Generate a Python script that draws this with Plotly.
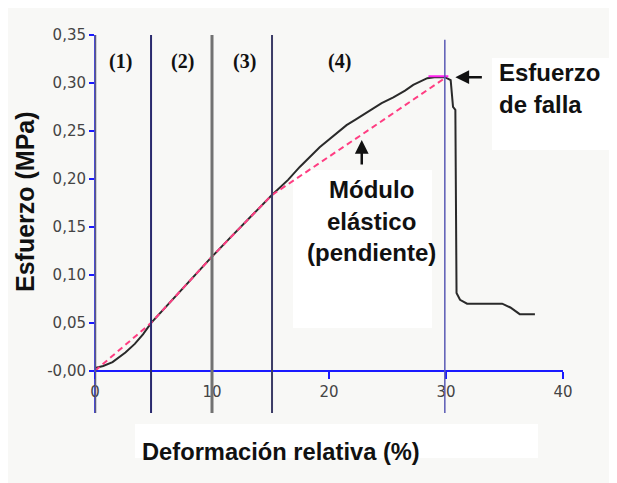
import plotly.graph_objects as go

# ---- data ----
strain = [0, 0.7, 1.5, 2.6, 3.4, 4.1, 4.8, 6.0, 7.5, 9.0, 10.0, 11.5, 13.0, 15.1,
          16.5, 17.5, 19.2, 20.3, 21.5, 22.3, 23.2, 24.5, 25.5, 26.5, 27.2, 28.4,
          29.0, 29.9, 30.4, 30.6, 30.8, 30.9, 31.2, 31.8, 33.0, 34.8, 35.5, 36.3, 37.6]
stress = [0.003, 0.005, 0.009, 0.019, 0.028, 0.038, 0.050, 0.066, 0.086, 0.106, 0.119,
          0.138, 0.157, 0.183, 0.199, 0.2125, 0.233, 0.244, 0.256, 0.262, 0.269, 0.279,
          0.285, 0.292, 0.298, 0.305, 0.306, 0.306, 0.303, 0.275, 0.272, 0.081, 0.074,
          0.070, 0.070, 0.070, 0.066, 0.059, 0.059]

modulus_x = [0, 4.8, 10.0, 15.1, 22.9, 29.9]
modulus_y = [0, 0.050, 0.119, 0.183, 0.247, 0.305]

peak_x = [28.5, 30.2]
peak_y = [0.307, 0.307]

boundaries = [0, 4.79, 10.0, 15.13, 29.9]
region_labels = ["(1)", "(2)", "(3)", "(4)"]
region_label_x = [2.14, 7.5, 12.8, 20.9]

y_tickvals = [0, 0.05, 0.10, 0.15, 0.20, 0.25, 0.30, 0.35]
y_ticktext = ["-0,00", "0,05", "0,10", "0,15", "0,20", "0,25", "0,30", "0,35"]
x_tickvals = [0, 10, 20, 30, 40]
x_ticktext = ["0", "10", "20", "30", "40"]

YMIN, YMAX = -0.044, 0.35
XMIN, XMAX = 0, 40

fig = go.Figure()

fig.add_trace(go.Scatter(x=strain, y=stress, mode="lines",
                         line=dict(color="#2a2a2a", width=2), showlegend=False,
                         hoverinfo="skip"))
fig.add_trace(go.Scatter(x=modulus_x, y=modulus_y, mode="lines",
                         line=dict(color="#ff3d82", width=2, dash="6px,4px"),
                         showlegend=False, hoverinfo="skip"))
fig.add_trace(go.Scatter(x=peak_x, y=peak_y, mode="lines",
                         line=dict(color="#ff22ee", width=2), showlegend=False,
                         hoverinfo="skip"))

# page offset (body margin) compensation
OFF = 8
PL, PT, W, H = 95, 35, 468, 378          # plot area in page pixels
def px(xp):
    return (xp - PL) / W
def py(yp):
    return (PT + H - yp) / H
def dx(xp):
    return (xp - PL) / 11.7
def dy(yp):
    return (PT + H - 42 - yp) / 960

shapes = []
for (x0, y0, x1, y1) in [(492, 58, 640, 150), (293, 170, 432, 328), (135, 424, 538, 458)]:
    shapes.append(dict(type="rect", xref="paper", yref="paper",
                       x0=px(x0), x1=px(x1), y0=py(y1), y1=py(y0),
                       fillcolor="white", line=dict(width=0), layer="below"))

bcolors = ["#5a5a80", "#2a2a6e", "#727272", "#3c3c66", "#5a5ab4"]
bwidths = [2.5, 2, 3, 2, 1.5]
btops = [YMAX, YMAX, YMAX, YMAX, 0.345]
for bx, c, w, top in zip(boundaries, bcolors, bwidths, btops):
    shapes.append(dict(type="line", xref="x", yref="y", x0=bx, x1=bx,
                       y0=YMIN, y1=top, line=dict(color=c, width=w), layer="above"))

annotations = []
for lab, lx in zip(region_labels, region_label_x):
    annotations.append(dict(x=lx, y=0.322, xref="x", yref="y", text="<b>" + lab + "</b>",
                            showarrow=False,
                            font=dict(family="Liberation Serif", size=20, color="#111")))

bold = dict(family="Liberation Sans, Arial", size=24, color="#111")

# failure stress label + arrow
annotations.append(dict(x=30.8, y=0.306, xref="x", yref="y", text="", showarrow=True,
                        ax=28, ay=0, arrowhead=2, arrowsize=1.1, arrowwidth=2.5,
                        arrowcolor="#111"))
annotations.append(dict(x=dx(497), y=dy(73), xref="x", yref="y",
                        text="<b>Esfuerzo</b>", showarrow=False, xanchor="left",
                        yanchor="middle", font=bold))
annotations.append(dict(x=dx(497), y=dy(105), xref="x", yref="y",
                        text="<b>de falla</b>", showarrow=False, xanchor="left",
                        yanchor="middle", font=bold))

# modulus label + arrow
annotations.append(dict(x=22.8, y=0.2406, xref="x", yref="y", text="", showarrow=True,
                        ax=0, ay=26, arrowhead=2, arrowsize=1.1, arrowwidth=2.5,
                        arrowcolor="#111"))
for txt, yp in [("Módulo", 190), ("elástico", 222), ("(pendiente)", 253)]:
    annotations.append(dict(x=dx(371), y=dy(yp), xref="x", yref="y",
                            text="<b>" + txt + "</b>", showarrow=False,
                            xanchor="center", yanchor="middle", font=bold))

# axis titles
annotations.append(dict(x=px(281), y=py(452), xref="paper", yref="paper",
                        text="<b>Deformación relativa (%)</b>", showarrow=False,
                        xanchor="center", yanchor="middle",
                        font=dict(family="Liberation Sans, Arial", size=23.7, color="#111")))
annotations.append(dict(x=px(25), y=py(202), xref="paper", yref="paper",
                        text="<b>Esfuerzo (MPa)</b>", showarrow=False, textangle=-90,
                        xanchor="center", yanchor="middle",
                        font=dict(family="Liberation Sans, Arial", size=25, color="#111")))

fig.update_layout(
    width=617, height=483,
    margin=dict(l=PL - OFF, r=617 - (PL - OFF) - W, t=PT - OFF, b=483 - (PT - OFF) - H),
    paper_bgcolor="#f8f8f6", plot_bgcolor="rgba(0,0,0,0)",
    shapes=shapes, annotations=annotations,
    xaxis=dict(range=[XMIN, XMAX], tickvals=x_tickvals, ticktext=x_ticktext,
               showgrid=False, zeroline=False, showline=True, linecolor="#1a1aff",
               linewidth=2, ticks="outside", ticklen=7, tickwidth=2, tickcolor="#1a1aff",
               anchor="free", position=(0 - YMIN) / (YMAX - YMIN),
               tickfont=dict(family="DejaVu Sans", size=15, color="#444")),
    yaxis=dict(range=[YMIN, YMAX], tickvals=y_tickvals, ticktext=y_ticktext,
               showgrid=False, zeroline=False, showline=True, linecolor="#4a4ad0",
               linewidth=1, ticks="outside", ticklen=5, tickwidth=2, tickcolor="#1a1aff",
               tickfont=dict(family="DejaVu Sans", size=15, color="#444")),
)

fig.write_html("out.html")
